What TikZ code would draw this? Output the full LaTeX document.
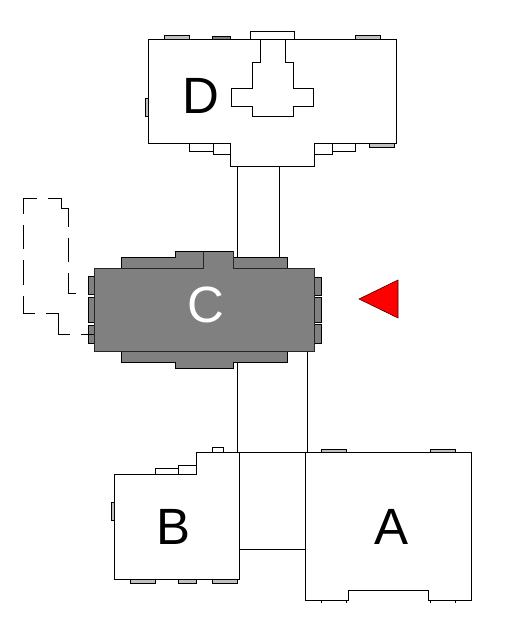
\documentclass[tikz,border=0pt]{standalone}
\usepackage{fontspec}
\setmainfont{Liberation Sans}
\tikzset{
    wall/.style = {draw=black, line width=1pt, fill=white, line join=miter},
    darkwall/.style = {wall, fill=darkblock},
    sill/.style = {wall, fill=white},
    glass/.style = {wall, fill=lightblock},
    tag/.style = {font=\fontsize{51}{51}\selectfont, inner sep=0pt}
}
\definecolor{darkblock}{HTML}{808080}
\definecolor{lightblock}{HTML}{C0C0C0}

\begin{document}
\begin{tikzpicture}[x=1pt,y=-1pt]
            \useasboundingbox (0,0) rectangle (529,631);

            % corridors
            \draw[wall] (237,160) rectangle (279,260);
            \draw[wall] (237,345) rectangle (307,452);
            \draw[wall] (239,452) rectangle (305,549);

            % block D
            \foreach \xa/\ya/\xb/\yb in {164/36/189/40, 355/36/380/40, 369/144/394/148, 145/99/148/117}
                \draw[glass] (\xa,\ya) rectangle (\xb,\yb);
            \draw[darkwall] (212,37) rectangle (230,40);
            \foreach \xa/\ya/\xb/\yb in {189/144/213/152, 213/144/230/155, 314/144/332/155, 332/144/355/152}
                \draw[sill] (\xa,\ya) rectangle (\xb,\yb);
            \draw[wall] (148,40) -- (396,40) -- (396,144) -- (314,144) -- (314,167)
                -- (230,167) -- (230,144) -- (148,144) -- cycle;
            \draw[wall] (260,40) -- (260,63) -- (252,63) -- (252,89) -- (231,89) -- (231,107)
                -- (252,107) -- (252,117) -- (293,117) -- (293,107) -- (313,107) -- (313,89)
                -- (293,89) -- (293,63) -- (285,63) -- (285,40);
            \draw[sill] (250,32) rectangle (294,40);

            % old outline beside block C
            \draw[black, line width=1pt, dash pattern=on 30pt off 11pt on 24pt off 11pt on 25pt off 11pt on 29pt off 11pt on 45pt off 11pt on 12pt off 0pt]
                (37,198) -- (23,198) -- (23,313) -- (58,313) -- (58,334) -- (94,334);
            \draw[black, line width=1pt, dash pattern=on 49pt off 11pt on 24pt off 11pt on 28pt off 0pt]
                (48,198) -- (61,198) -- (61,208) -- (68,208) -- (68,293) -- (76,293);

            % block C
            \foreach \xa/\ya/\xb/\yb in {88/276/94/294, 88/297/94/322, 88/325/94/343, 314/277/321/295, 314/297/321/322, 314/324/321/343}
                \draw[darkwall] (\xa,\ya) rectangle (\xb,\yb);
            \draw[darkwall] (121,268) -- (121,257) -- (175,257) -- (175,251) -- (233,251)
                -- (233,257) -- (287,257) -- (287,268) -- cycle;
            \draw[darkwall] (121,351) -- (121,362) -- (175,362) -- (175,368) -- (233,368)
                -- (233,362) -- (287,362) -- (287,351) -- cycle;
            \fill[darkblock] (94,268) rectangle (314,351);
            \fill[darkblock] (203,252) rectangle (233,268);
            \draw[black!85, line width=1pt] (203,251) -- (203,268) -- (94,268) -- (94,351) -- (314,351)
                -- (314,268) -- (233,268) -- (233,251);
            \draw[black, line width=1pt] (94,334) -- (88,334);

            % block B
            \foreach \xa/\ya/\xb/\yb in {111/502/114/520, 130/579/155/583, 178/579/196/583, 212/579/237/583}
                \draw[glass] (\xa,\ya) rectangle (\xb,\yb);
            \foreach \xa/\ya/\xb/\yb in {155/468/178/474, 178/465/196/474, 212/447/223/452}
                \draw[sill] (\xa,\ya) rectangle (\xb,\yb);
            \draw[wall] (114,474) -- (196,474) -- (196,452) -- (239,452) -- (239,579) -- (114,579) -- cycle;

            % block A
            \foreach \xa in {321,430}
                \draw[glass] (\xa,449) rectangle (\xa+25,452);
            \draw[wall] (305,452) -- (471,452) -- (471,600) -- (428,600) -- (428,590) -- (348,590)
                -- (348,600) -- (305,600) -- cycle;
            \foreach \xa in {321,430}
                \draw[black, line width=1pt] (\xa,603) -- (\xa,600) -- (\xa+25,600) -- (\xa+25,603);

            % viewpoint
            \draw[fill=red, draw=black!70!red, line width=0.6pt] (359,299) -- (398,280) -- (398,318) -- cycle;

            \node[tag] (blockd) at (201,96) {D};
            \node[tag, text=white] (blockc) at (206,305) {C};
            \node[tag] (blockb) at (174,527) {B};
            \node[tag] (blocka) at (392,527) {A};
\end{tikzpicture}
\end{document}
